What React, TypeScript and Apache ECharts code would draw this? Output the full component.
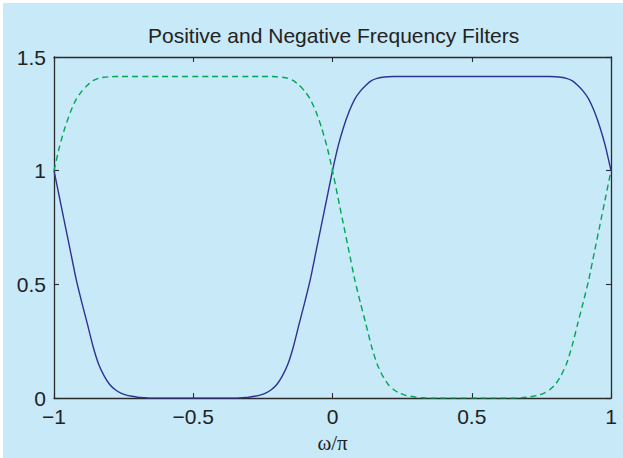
import React, { useEffect, useRef } from "react";
import * as echarts from "echarts";

const titleText = "Positive and Negative Frequency Filters";
const xLabel = "ω/π";

const omega = [
  -1, -0.98, -0.96, -0.94, -0.92, -0.9, -0.88, -0.86, -0.84, -0.82,
  -0.8, -0.78, -0.76, -0.74, -0.72, -0.7, -0.68, -0.66, -0.64, -0.62,
  -0.6, -0.58, -0.56, -0.54, -0.52, -0.5, -0.48, -0.46, -0.44, -0.42,
  -0.4, -0.38, -0.36, -0.34, -0.32, -0.3, -0.28, -0.26, -0.24, -0.22,
  -0.2, -0.18, -0.16, -0.14, -0.12, -0.1, -0.08, -0.06, -0.04, -0.02,
  0, 0.02, 0.04, 0.06, 0.08, 0.1, 0.12, 0.14, 0.16, 0.18,
  0.2, 0.22, 0.24, 0.26, 0.28, 0.3, 0.32, 0.34, 0.36, 0.38,
  0.4, 0.42, 0.44, 0.46, 0.48, 0.5, 0.52, 0.54, 0.56, 0.58,
  0.6, 0.62, 0.64, 0.66, 0.68, 0.7, 0.72, 0.74, 0.76, 0.78,
  0.8, 0.82, 0.84, 0.86, 0.88, 0.9, 0.92, 0.94, 0.96, 0.98,
  1,
];

const positiveFilter = [
  1.0, 0.88, 0.76, 0.64, 0.52, 0.42, 0.325, 0.228, 0.15, 0.098,
  0.06, 0.037, 0.022, 0.013, 0.008, 0.004, 0.002, 0, 0, 0,
  0, 0, 0, 0, 0, 0, 0, 0, 0, 0,
  0, 0, 0, 0, 0.002, 0.004, 0.008, 0.013, 0.022, 0.037,
  0.06, 0.098, 0.15, 0.228, 0.325, 0.42, 0.52, 0.64, 0.76, 0.88,
  1.0, 1.107, 1.192, 1.261, 1.315, 1.35, 1.376, 1.396, 1.406, 1.411,
  1.413, 1.414, 1.414, 1.414, 1.414, 1.414, 1.414, 1.414, 1.414, 1.414,
  1.414, 1.414, 1.414, 1.414, 1.414, 1.414, 1.414, 1.414, 1.414, 1.414,
  1.414, 1.414, 1.414, 1.414, 1.414, 1.414, 1.414, 1.414, 1.414, 1.414,
  1.413, 1.411, 1.406, 1.396, 1.376, 1.35, 1.315, 1.261, 1.192, 1.107,
  1.0,
];

const negativeFilter = [
  1.0, 1.107, 1.192, 1.261, 1.315, 1.35, 1.376, 1.396, 1.406, 1.411,
  1.413, 1.414, 1.414, 1.414, 1.414, 1.414, 1.414, 1.414, 1.414, 1.414,
  1.414, 1.414, 1.414, 1.414, 1.414, 1.414, 1.414, 1.414, 1.414, 1.414,
  1.414, 1.414, 1.414, 1.414, 1.414, 1.414, 1.414, 1.414, 1.414, 1.414,
  1.413, 1.411, 1.406, 1.396, 1.376, 1.35, 1.315, 1.261, 1.192, 1.107,
  1.0, 0.88, 0.76, 0.64, 0.52, 0.42, 0.325, 0.228, 0.15, 0.098,
  0.06, 0.037, 0.022, 0.013, 0.008, 0.004, 0.002, 0, 0, 0,
  0, 0, 0, 0, 0, 0, 0, 0, 0, 0,
  0, 0, 0, 0, 0.002, 0.004, 0.008, 0.013, 0.022, 0.037,
  0.06, 0.098, 0.15, 0.228, 0.325, 0.42, 0.52, 0.64, 0.76, 0.88,
  1.0,
];

const BG = "#c7e9f8";
const AXIS = "#2b2b2b";
const TEXT = "#222222";
const FONT = "'Liberation Sans', Arial, Helvetica, sans-serif";

const fmt = (v: number) => {
  const s = String(Math.round(v * 100) / 100);
  return s.replace("-", "\u2212");
};

export default function App() {
  const ref = useRef<HTMLDivElement>(null);

  useEffect(() => {
    if (!ref.current) return;
    const chart = echarts.init(ref.current, undefined, { renderer: "svg" });

    const axisLine = { show: true, onZero: false, lineStyle: { color: AXIS, width: 1.3 } };
    const tickIn = { show: true, inside: true, length: 5, lineStyle: { color: AXIS, width: 1.1 } };

    chart.setOption({
      animation: false,
      backgroundColor: BG,
      title: {
        text: titleText,
        left: 140,
        top: 17,
        textStyle: { fontFamily: FONT, fontSize: 21, fontWeight: "normal", color: TEXT },
      },
      grid: { left: 51, right: 12, top: 54, bottom: 56, containLabel: false },
      xAxis: [
        {
          type: "value",
          min: -1,
          max: 1,
          interval: 0.5,
          position: "bottom",
          axisLine,
          axisTick: tickIn,
          splitLine: { show: false },
          axisLabel: { fontFamily: FONT, fontSize: 21, color: TEXT, margin: 8, formatter: fmt },
          name: xLabel,
          nameLocation: "middle",
          nameGap: 28,
          nameTextStyle: { fontFamily: "'Liberation Serif', 'DejaVu Serif', serif", fontSize: 21, color: TEXT },
        },
        {
          type: "value",
          min: -1,
          max: 1,
          interval: 0.5,
          position: "top",
          axisLine,
          axisTick: tickIn,
          splitLine: { show: false },
          axisLabel: { show: false },
        },
      ],
      yAxis: [
        {
          type: "value",
          min: 0,
          max: 1.5,
          interval: 0.5,
          position: "left",
          axisLine,
          axisTick: tickIn,
          splitLine: { show: false },
          axisLabel: { fontFamily: FONT, fontSize: 21, color: TEXT, margin: 8, formatter: fmt },
        },
        {
          type: "value",
          min: 0,
          max: 1.5,
          interval: 0.5,
          position: "right",
          axisLine,
          axisTick: tickIn,
          splitLine: { show: false },
          axisLabel: { show: false },
        },
      ],
      series: [
        {
          name: "Positive",
          type: "line",
          xAxisIndex: 0,
          yAxisIndex: 0,
          showSymbol: false,
          smooth: 0.2,
          lineStyle: { color: "#2e3192", width: 1.4 },
          data: omega.map((x, i) => [x, positiveFilter[i]]),
        },
        {
          name: "Negative",
          type: "line",
          xAxisIndex: 0,
          yAxisIndex: 0,
          showSymbol: false,
          smooth: 0.2,
          lineStyle: { color: "#00a651", width: 1.4, type: [6, 4] },
          data: omega.map((x, i) => [x, negativeFilter[i]]),
        },
      ],
    });

    return () => chart.dispose();
  }, []);

  return (
    <div style={{ position: "fixed", left: 0, top: 0, width: 623, height: 458, background: "#ffffff" }}>
      <div ref={ref} style={{ position: "absolute", left: 3, top: 3, width: 620, height: 455 }} />
    </div>
  );
}
